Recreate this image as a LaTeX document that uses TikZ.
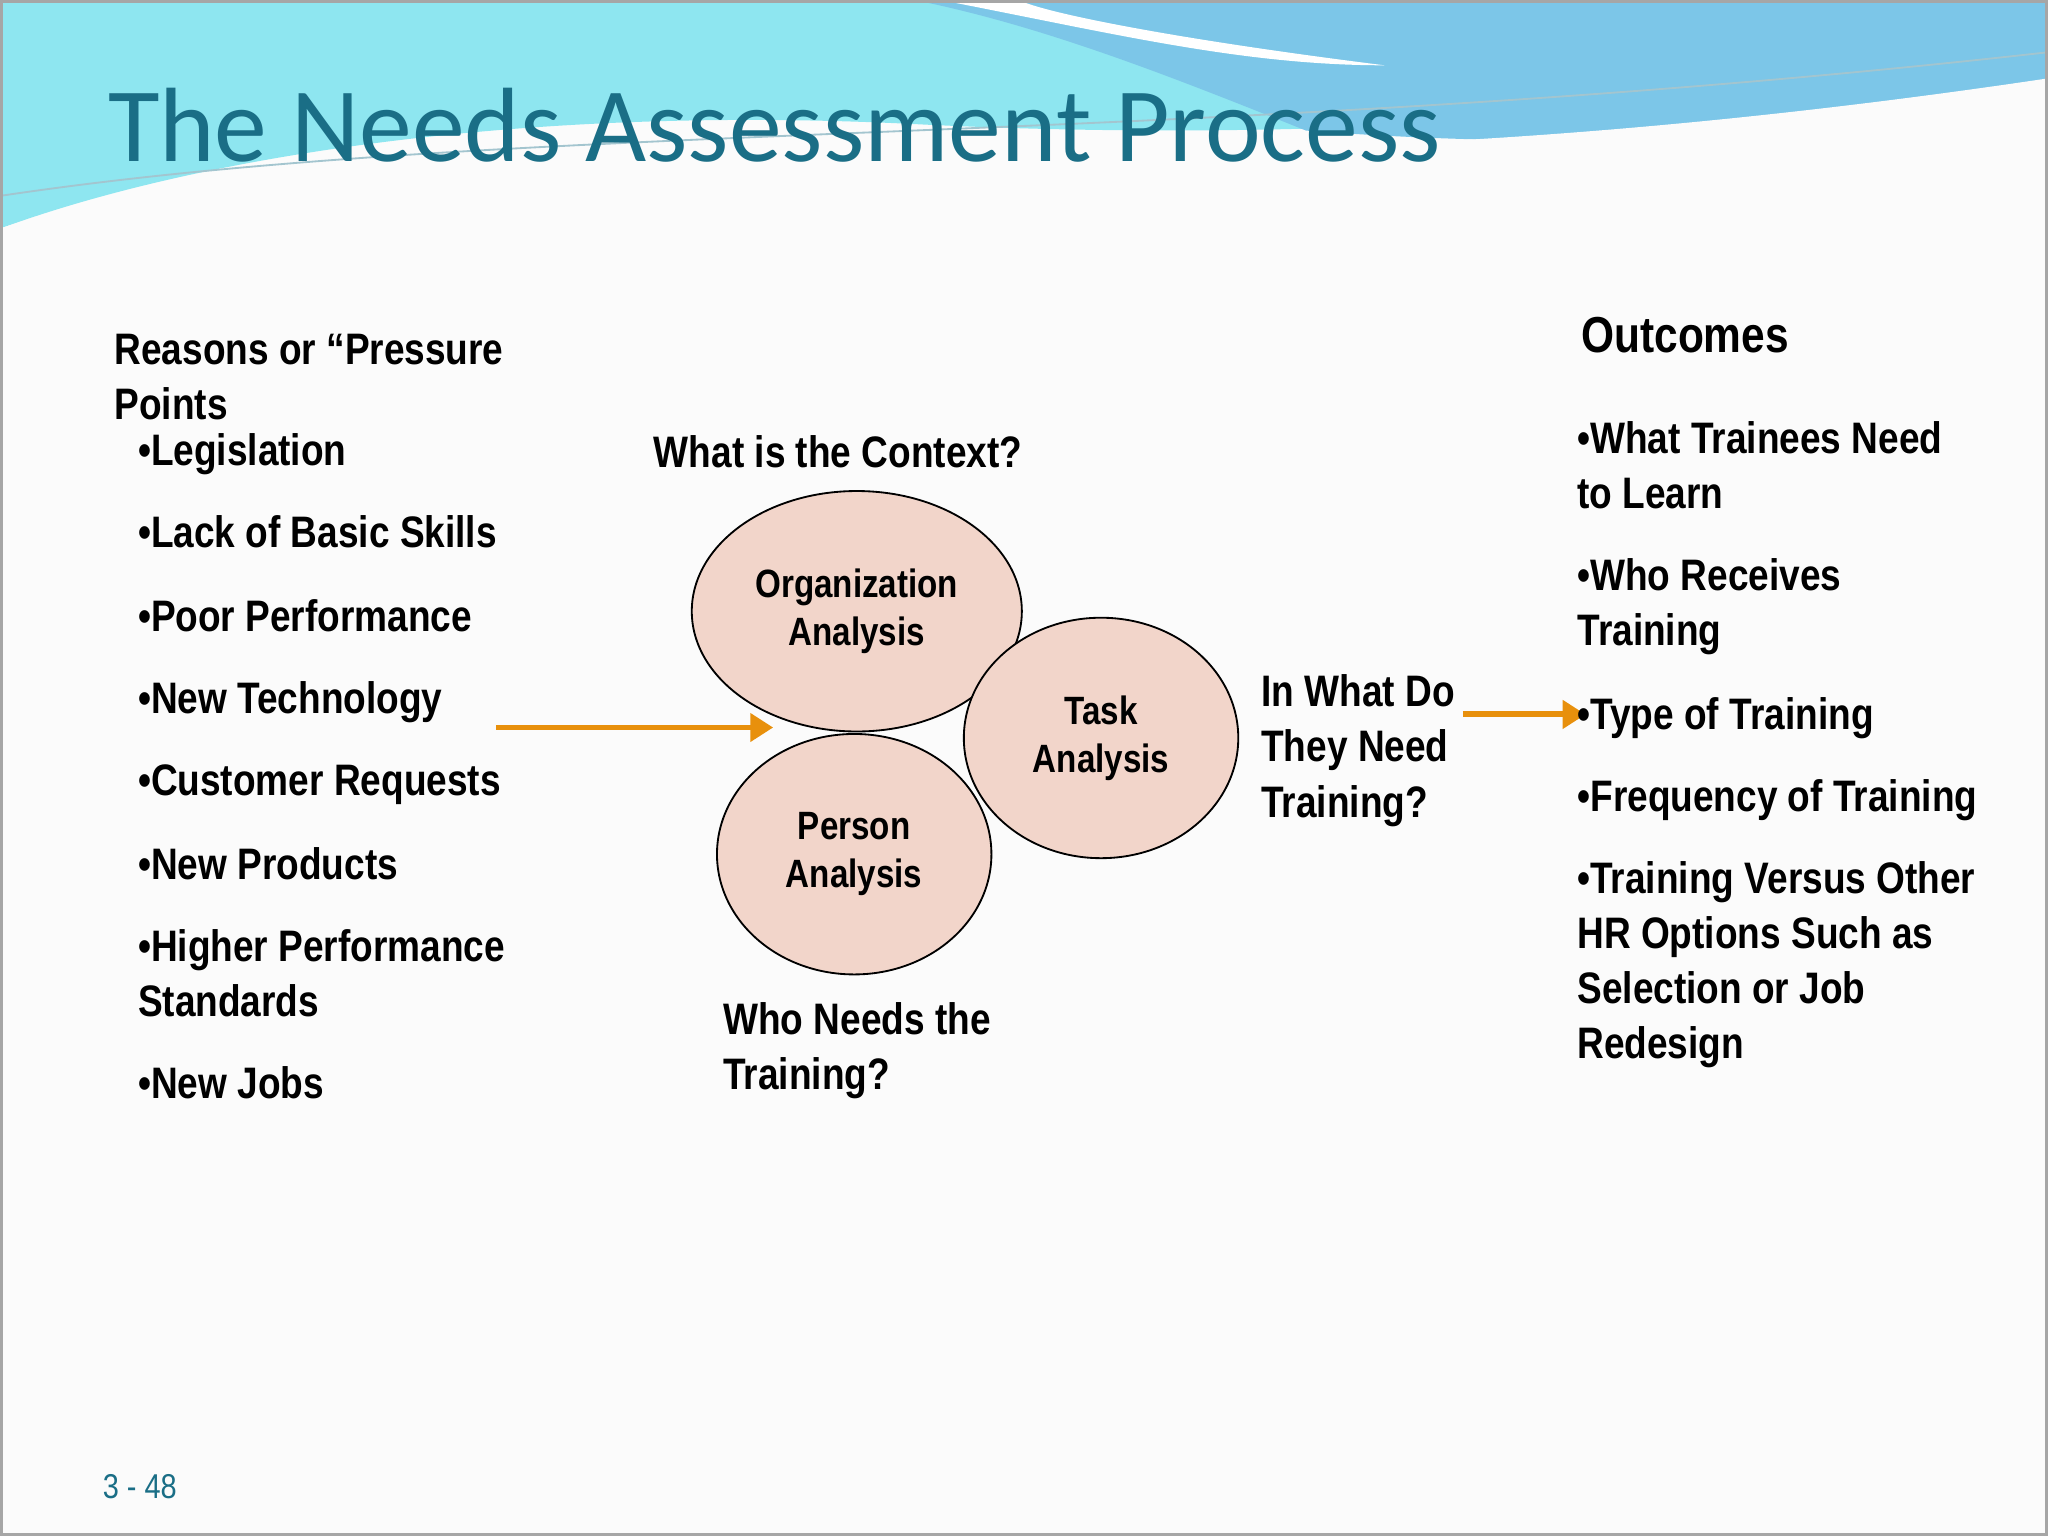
\documentclass[tikz,border=0pt]{standalone}
\usepackage{fontspec}
\setmainfont{Liberation Sans}[FakeStretch=0.84]
\newfontfamily\titlefont{Carlito}
\usetikzlibrary{arrows.meta}
\definecolor{ttl}{HTML}{1A6E86}
\definecolor{orng}{HTML}{E8900C}
\definecolor{pink}{HTML}{F2D5CA}
\definecolor{cyanA}{HTML}{8EE6F0}
\definecolor{blueB}{HTML}{7CC6E8}
\tikzset{
  txt/.style={anchor=north west,align=left,inner sep=0pt,font=\bfseries\fontsize{9.6}{12}\selectfont},
  circ/.style={ellipse,draw=black,line width=0.4pt,fill=pink,minimum width=2.1cm,minimum height=1.84cm,align=center,font=\bfseries\fontsize{8.6}{10.5}\selectfont},
  arr/.style={orng,line width=1.3pt,-{Triangle[length=5pt,width=6pt]}}
}
\usetikzlibrary{shapes.geometric}
\begin{document}
\begin{tikzpicture}[x=0.01cm,y=-0.01cm]
\useasboundingbox (0,0) rectangle (1568,1176);
\fill[white!97!gray] (0,0) rectangle (1568,1176);
% header waves
\fill[cyanA] (0,0) -- (1568,0) -- (1568,40) .. controls (1300,90) and (1000,110) .. (700,95) .. controls (400,80) and (150,120) .. (0,175) -- cycle;
\fill[blueB] (700,0) -- (1568,0) -- (1568,60) .. controls (1400,110) and (1200,115) .. (1000,100) .. controls (900,60) and (800,20) .. (700,0) -- cycle;
\fill[white] (720,0) .. controls (850,25) and (950,50) .. (1060,50) .. controls (900,30) and (800,10) .. (780,0) -- cycle;
\fill[white!97!gray] (0,175) .. controls (150,125) and (400,95) .. (700,110) .. controls (1000,125) and (1300,100) .. (1568,60) -- (1568,1176) -- (0,1176) -- cycle;
\draw[ttl!40,line width=0.4pt] (0,150) .. controls (400,90) and (900,115) .. (1568,40);
\draw[gray!70,line width=0.6pt] (1,1) rectangle (1567,1175);
\node[anchor=west,inner sep=0pt,text=ttl,font=\titlefont\fontsize{23}{26}\selectfont] (title) at (82,96) {The Needs Assessment Process};
% left
\node[txt] (reasons) at (87,255) {Reasons or “Pressure\\Points};
\node[txt] (b1) at (105,331) {•Legislation};
\node[txt] (b2) at (105,394) {•Lack of Basic Skills};
\node[txt] (b3) at (105,458) {•Poor Performance};
\node[txt] (b4) at (105,521) {•New Technology};
\node[txt] (b5) at (105,585) {•Customer Requests};
\node[txt] (b6) at (105,648) {•New Products};
\node[txt] (b7) at (105,711) {•Higher Performance\\Standards};
\node[txt] (b8) at (105,816) {•New Jobs};
% middle
\node[txt] (ctx) at (500,333) {What is the Context?};
\node[circ] (org) at (656,468) {Organization\\Analysis};
\node[circ] (task) at (843,565) {Task\\Analysis};
\node[circ] (pers) at (654,654) {Person\\Analysis};
\node[txt] (who) at (553,767) {Who Needs the\\Training?};
\node[txt] (inwhat) at (965,516) {In What Do\\They Need\\Training?};
\coordinate (a1) at (380,557);
\coordinate (a2) at (592,557);
\draw[arr] (a1) -- (a2);
\coordinate (c1) at (1120,547);
\coordinate (c2) at (1214,547);
\draw[arr] (c1) -- (c2);
% right
\node[txt,font=\bfseries\fontsize{11}{13}\selectfont] (out) at (1210,242) {Outcomes};
\node[txt] (r1) at (1207,322) {•What Trainees Need\\to Learn};
\node[txt] (r2) at (1207,427) {•Who Receives\\Training};
\node[txt] (r3) at (1207,533) {•Type of Training};
\node[txt] (r4) at (1207,596) {•Frequency of Training};
\node[txt] (r5) at (1207,659) {•Training Versus Other\\HR Options Such as\\Selection or Job\\Redesign};
\node[anchor=west,inner sep=0pt,text=ttl,font=\fontsize{7.5}{9}\selectfont] (pg) at (78,1138) {3 - 48};
\end{tikzpicture}
\end{document}
